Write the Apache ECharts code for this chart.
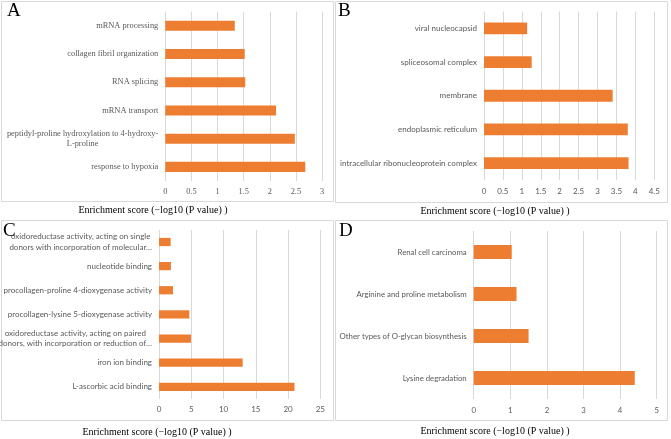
<!DOCTYPE html>
<html>
<head>
<meta charset="utf-8">
<script src="https://cdn.jsdelivr.net/npm/echarts@6/dist/echarts.min.js"></script>
<style>html,body{margin:0;padding:0;background:#fff}#c{width:671px;height:439px}</style>
</head>
<body>
<div id="c"></div>
<script>
// Panel A – biological process
var catsA = ['mRNA processing', 'collagen fibril organization', 'RNA splicing', 'mRNA transport',
  'peptidyl-proline hydroxylation to 4-hydroxy-\nL-proline', 'response to hypoxia'];
var valsA = [1.33, 1.52, 1.53, 2.12, 2.48, 2.68];
var ticksA = ['0', '0.5', '1', '1.5', '2', '2.5', '3'];

// Panel B – cellular component
var catsB = ['viral nucleocapsid', 'spliceosomal complex', 'membrane', 'endoplasmic reticulum',
  'intracellular ribonucleoprotein complex'];
var valsB = [1.14, 1.26, 3.40, 3.80, 3.82];
var ticksB = ['0', '0.5', '1', '1.5', '2', '2.5', '3', '3.5', '4', '4.5'];

// Panel C – molecular function
var catsC = ['oxidoreductase activity, acting on single\ndonors with incorporation of molecular\u2026',
  'nucleotide binding', 'procollagen-proline 4-dioxygenase activity',
  'procollagen-lysine 5-dioxygenase activity',
  'oxidoreductase activity, acting on paired\ndonors, with incorporation or reduction of\u2026',
  'iron ion binding', 'L-ascorbic acid binding'];
var valsC = [1.8, 1.85, 2.17, 4.7, 4.96, 12.97, 21.0];
var ticksC = ['0', '5', '10', '15', '20', '25'];

// Panel D – KEGG pathway
var catsD = ['Renal cell carcinoma', 'Arginine and proline metabolism',
  'Other types of O-glycan biosynthesis', 'Lysine degradation'];
var valsD = [1.04, 1.17, 1.50, 4.40];
var ticksD = ['0', '1', '2', '3', '4', '5'];

var panelLetters = ['A', 'B', 'C', 'D'];
var axisTitle = 'Enrichment score (\u2212log10 (P value) )';

var SERIF = '"Liberation Serif", "Times New Roman", serif';
var SANS = 'Lato, "Noto Sans", sans-serif';
var GREY = '#595959';
var GRID = '#d9d9d9';
var BAR = '#ED7D31';

var panels = [
  {cats: catsA, vals: valsA, ticks: ticksA, font: SERIF, fs: 8.4, grid: {left: 165.3, top: 11.6, width: 156.7, height: 169.4}, bw: '35.5%', lh: 9.7},
  {cats: catsB, vals: valsB, ticks: ticksB, font: SANS, fs: 8, grid: {left: 484, top: 11.5, width: 170.3, height: 168.5}, bw: '35%', lh: 10.7},
  {cats: catsC, vals: valsC, ticks: ticksC, font: SANS, fs: 8, grid: {left: 159, top: 229.9, width: 161.3, height: 169}, bw: '34%', lh: 10.7},
  {cats: catsD, vals: valsD, ticks: ticksD, font: SANS, fs: 7.8, grid: {left: 473.7, top: 231, width: 183, height: 168}, bw: '33%', lh: 10.7}
];

var grids = [], xAxes = [], yAxes = [], series = [];
panels.forEach(function (p, i) {
  grids.push({left: p.grid.left, top: p.grid.top, width: p.grid.width, height: p.grid.height,
    containLabel: false, outerBoundsMode: 'none'});
  var n = p.ticks.length - 1;
  var mx = parseFloat(p.ticks[n]);
  var step = parseFloat(p.ticks[1]) - parseFloat(p.ticks[0]);
  xAxes.push({
    type: 'value', gridIndex: i, min: 0, max: mx, interval: step,
    axisLine: {show: false}, axisTick: {show: false},
    splitLine: {show: true, lineStyle: {color: GRID, width: 1}},
    axisLabel: {color: GREY, fontFamily: p.font, fontSize: p.fs, margin: 7,
      formatter: function (v) { return String(+v.toFixed(2)); }}
  });
  yAxes.push({
    type: 'category', gridIndex: i, data: p.cats, inverse: true,
    axisLine: {show: false}, axisTick: {show: false}, splitLine: {show: false},
    axisLabel: {
      color: GREY, fontFamily: p.font, fontSize: p.fs, margin: 7, interval: 0, lineHeight: p.lh,
      formatter: function (v) {
        if (v.indexOf('\n') < 0) return v;
        return v.split('\n').map(function (l) { return '{c|' + l + '}'; }).join('\n');
      },
      rich: {c: {align: 'center', color: GREY, fontFamily: p.font, fontSize: p.fs, lineHeight: p.lh}}
    }
  });
  series.push({
    type: 'bar', xAxisIndex: i, yAxisIndex: i, data: p.vals, barWidth: p.bw,
    itemStyle: {color: BAR}, silent: true
  });
});

var boxes = [[1, 1, 332, 200], [335, 1, 332, 201], [1, 220, 332, 200], [335, 220, 332, 200]];
var letterPos = [[7, 2], [338, 2], [3, 222], [339, 222]];
var titlePos = [[153, 205], [495, 206], [157, 427], [495, 426]];

var graphics = [];
boxes.forEach(function (b) {
  graphics.push({type: 'rect', shape: {x: b[0] + 0.5, y: b[1] + 0.5, width: b[2], height: b[3]},
    style: {fill: null, stroke: GRID, lineWidth: 1}, silent: true, z: -1});
});
panelLetters.forEach(function (L, i) {
  graphics.push({type: 'text', x: letterPos[i][0], y: letterPos[i][1],
    style: {text: L, font: '19px ' + SERIF, fill: '#000', textVerticalAlign: 'top'}, silent: true});
  graphics.push({type: 'text', x: titlePos[i][0], y: titlePos[i][1],
    style: {text: axisTitle, font: '10px ' + SERIF, fill: '#000', textAlign: 'center', textVerticalAlign: 'top'}, silent: true});
});

var chart = echarts.init(document.getElementById('c'), null, {renderer: 'canvas'});
chart.setOption({
  animation: false,
  grid: grids, xAxis: xAxes, yAxis: yAxes, series: series,
  graphic: graphics
});
</script>
</body>
</html>
